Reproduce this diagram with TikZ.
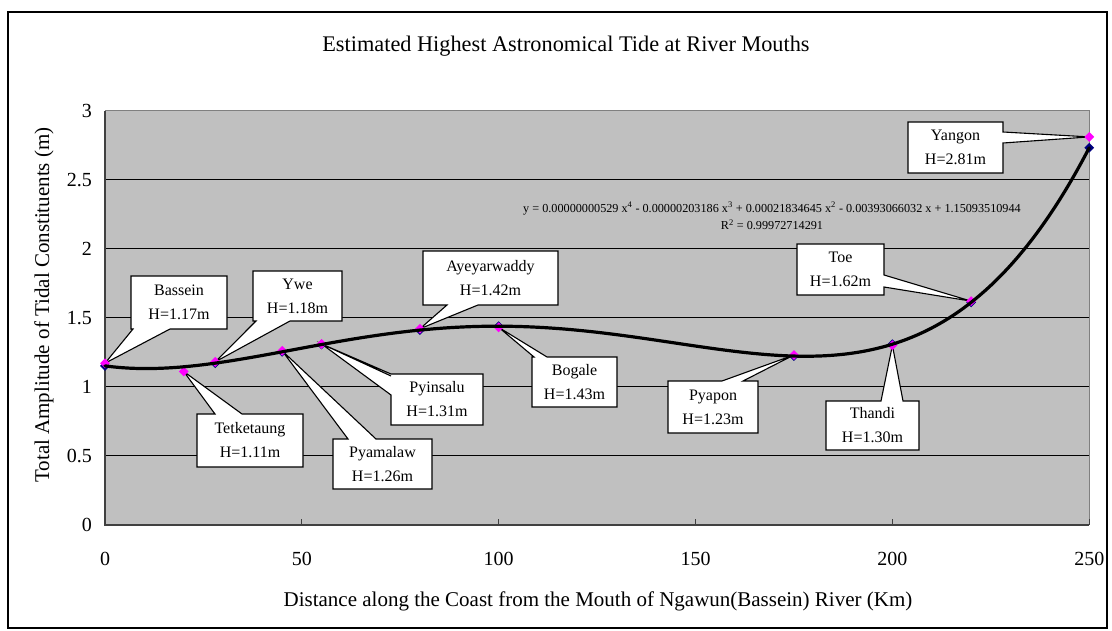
\documentclass[tikz,border=0pt]{standalone}
\usepackage{fontspec}
\setmainfont{Liberation Serif}
\usetikzlibrary{shapes.geometric}
\definecolor{plotbg}{HTML}{C0C0C0}
\definecolor{framegrey}{HTML}{808080}
\definecolor{axisdark}{HTML}{404040}
\definecolor{mkpink}{HTML}{FF00FF}
\definecolor{mknavy}{HTML}{000080}
\begin{document}
\begin{tikzpicture}[x=1pt,y=-1pt,
  declare function={tide(\k)=((((0.529*\k/100-2.03186)*\k/100+2.1834645)*\k/100-0.393066032)*\k/100+1.15093510944);},
  callout/.style={fill=white,draw=black,line width=1.1pt,line join=miter},
  calltext/.style={font=\fontsize{16}{24}\selectfont,align=center,inner sep=0pt},
  ticklab/.style={font=\fontsize{20}{24}\selectfont,inner sep=0pt},
  axtitle/.style={font=\fontsize{21}{25}\selectfont,inner sep=0pt},
  gridln/.style={draw=black,line width=0.8pt},
  mkp/.style={diamond,fill=mkpink,minimum size=10pt,inner sep=0pt},
  mkn/.style={diamond,fill=mknavy,minimum size=10pt,inner sep=0pt},
  curveln/.style={draw=black,line width=3.2pt,line join=round,line cap=round}]
\useasboundingbox (0,0) rectangle (1112,631);
\fill[white] (0,0) rectangle (1112,631);
\draw[line width=1.2pt] (8,12) rectangle (1107,628);
% title
\node[font=\fontsize{22.3}{26}\selectfont,anchor=base,inner sep=0pt] (title) at (566,51.5) {Estimated Highest Astronomical Tide at River Mouths};
% plot area
\begin{scope}[shift={(105,524.7)},x=3.937pt,y=138pt]
  \fill[plotbg] (0,0) rectangle (250,3);
  \foreach \h in {0.5,1,1.5,2,2.5} \draw[gridln] (0,\h) -- (250,\h);
  \draw[framegrey,line width=1pt] (0,3) -- (250,3) -- (250,0);
  \foreach \k in {50,100,150,200,250} \draw[axisdark,line width=1pt] (\k,0) -- ++(0pt,6pt);
  \draw[axisdark,line width=1.6pt] (0,3) -- (0,0) -- (250,0);
  % tick labels
  \foreach \h/\t in {0/0,0.5/0.5,1/1,1.5/1.5,2/2,2.5/2.5,3/3}
    \node[ticklab,anchor=east] (yl\t) at ([xshift=-13pt]0,\h) {\t};
  \foreach \k in {0,50,100,150,200,250}
    \node[ticklab,anchor=base] (xl\k) at ([yshift=-40.3pt]\k,0) {\k};
  % data coordinates
  \coordinate (pBas) at (0,1.17);
  \coordinate (pTet) at (20,1.11);
  \coordinate (pYwe) at (28,1.18);
  \coordinate (pPym) at (45,1.26);
  \coordinate (pPyi) at (55,1.31);
  \coordinate (pAye) at (80,1.42);
  \coordinate (pBog) at (100,1.43);
  \coordinate (pPya) at (175,1.23);
  \coordinate (pTha) at (200,1.30);
  \coordinate (pToe) at (220,1.62);
  \coordinate (pYan) at (250,2.81);
\end{scope}
% axis titles
\node[axtitle,anchor=base] (xtitle) at (598,606) {Distance along the Coast from the Mouth of Ngawun(Bassein) River (Km)};
\node[axtitle,rotate=90] (ytitle) at (44,305) {Total Amplitude of Tidal Constituents (m)};
% trendline equation
\node[font=\fontsize{12.2}{17.5}\selectfont,align=center,inner sep=0pt] (eq) at (772,216) {y = 0.00000000529 x\textsuperscript{4} - 0.00000203186 x\textsuperscript{3} + 0.00021834645 x\textsuperscript{2} - 0.00393066032 x + 1.15093510944\\R\textsuperscript{2} = 0.99972714291};
% callouts
\draw[callout] (131,276) -- (227,276) -- (227,329) -- (170,329) -- (pBas) -- (133,329) -- (131,329) -- cycle;
\draw[callout] (253,271) -- (342,271) -- (342,321) -- (290,321) -- (pYwe) -- (256,321) -- (253,321) -- cycle;
\draw[callout] (197,414) -- (215,414) -- (pTet) -- (242,414) -- (303,414) -- (303,467) -- (197,467) -- cycle;
\draw[callout] (333,439) -- (348,439) -- (pPym) -- (376,439) -- (432,439) -- (432,489) -- (333,489) -- cycle;
\draw[callout] (391,376) -- (pPyi) -- (391,374) -- (483,374) -- (483,425) -- (391,425) -- (391,395) -- (pPyi) -- cycle;
\draw[callout] (423,251) -- (558,251) -- (558,305) -- (478,305) -- (pAye) -- (447,305) -- (423,305) -- cycle;
\draw[callout] (532,357) -- (534,357) -- (pBog) -- (547,357) -- (617,357) -- (617,407) -- (532,407) -- cycle;
\draw[callout] (668,381) -- (722,381) -- (pPya) -- (743,381) -- (758,381) -- (758,433) -- (668,433) -- cycle;
\draw[callout] (826,401) -- (881,401) -- (pTha) -- (903,401) -- (919,401) -- (919,450) -- (826,450) -- cycle;
\draw[callout] (797,244) -- (884,244) -- (884,275) -- (pToe) -- (884,287) -- (884,295) -- (797,295) -- cycle;
\draw[callout] (908,122) -- (1003,122) -- (1003,132) -- (pYan) -- (1003,143) -- (1003,173) -- (908,173) -- cycle;
\node[calltext] (tBas) at (179,302.5) {Bassein\\H=1.17m};
\node[calltext] (tYwe) at (297.5,296) {Ywe\\H=1.18m};
\node[calltext] (tTet) at (250,440.5) {Tetketaung\\H=1.11m};
\node[calltext] (tPym) at (382.5,464) {Pyamalaw\\H=1.26m};
\node[calltext] (tPyi) at (437,399.5) {Pyinsalu\\H=1.31m};
\node[calltext] (tAye) at (490.5,278) {Ayeyarwaddy\\H=1.42m};
\node[calltext] (tBog) at (574.5,382) {Bogale\\H=1.43m};
\node[calltext] (tPya) at (713,407) {Pyapon\\H=1.23m};
\node[calltext] (tTha) at (872.5,425.5) {Thandi\\H=1.30m};
\node[calltext] (tToe) at (840.5,269.5) {Toe\\H=1.62m};
\node[calltext] (tYan) at (955.5,147.5) {Yangon\\H=2.81m};
% markers and trend curve
\begin{scope}[shift={(105,524.7)},x=3.937pt,y=138pt]
  \foreach \k/\n in {0/a,28/c,45/d,55/e,80/f,100/g,175/h,200/i,220/j,250/k}
    \node[mkn] (n\n) at (\k,{tide(\k)}) {};
  \foreach \p/\n in {pBas/a,pTet/b,pYwe/c,pPym/d,pPyi/e,pAye/f,pBog/g,pPya/h,pTha/i,pToe/j,pYan/k}
    \node[mkp] (m\n) at (\p) {};
  \draw[curveln] plot[domain=0:250,samples=126,smooth] (\x,{tide(\x)});
\end{scope}
\end{tikzpicture}
\end{document}
